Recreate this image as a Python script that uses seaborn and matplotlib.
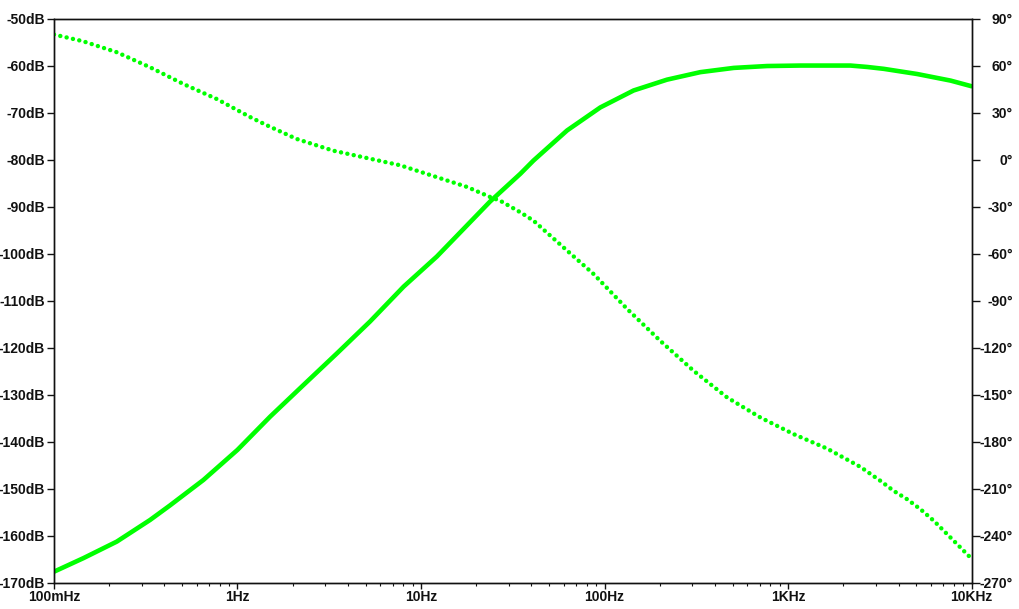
import numpy as np
import pandas as pd
import seaborn as sns
import matplotlib.pyplot as plt
from matplotlib.ticker import LogLocator, NullFormatter

# magnitude trace (solid)
mag_freq = [0.1, 0.145, 0.22, 0.334, 0.429, 0.652, 1.0, 1.51, 2.29, 3.48, 5.28,
            8.04, 12.2, 23.8, 34.8, 41, 62.5, 94.9, 144, 219, 333, 506, 769,
            1169, 2188, 2700, 3326, 5058, 7690, 10000]
mag_db = [-167.6, -164.7, -161.2, -156.6, -153.5, -148.1, -141.7, -134.6, -127.9,
          -121.2, -114.4, -107.0, -100.6, -88.9, -83.0, -80.2, -73.8, -68.9,
          -65.3, -63.0, -61.4, -60.5, -60.1, -60.0, -60.0, -60.3, -60.7, -61.8,
          -63.2, -64.4]

# phase trace (dotted)
phase_freq = [0.1, 0.144, 0.22, 0.334, 0.506, 0.77, 1.17, 1.44, 2.1, 3.33, 7.7,
              17.8, 24, 27, 34.8, 41, 62.5, 87.3, 133, 201, 306, 466, 708, 1075,
              1634, 2483, 3192, 3770, 4458, 5272, 6237, 8017, 10000]
phase_deg = [79.8, 75.5, 68.5, 58.9, 48.3, 38.7, 27.2, 22.0, 13.2, 5.7, -3.6,
             -17.4, -24.0, -26.2, -33.6, -38.9, -58.0, -73.0, -95.3, -115.5,
             -134.7, -151.7, -164.5, -175.1, -184.3, -196.0, -204.9, -211.3,
             -216.6, -223.0, -230.4, -243.2, -254.5]

db_ticks = list(range(-170, -49, 10))
deg_ticks = list(range(-270, 91, 30))
x_ticks = [0.1, 1, 10, 100, 1000, 10000]
x_labels = ["100mHz", "1Hz", "10Hz", "100Hz", "1KHz", "10KHz"]

mag = pd.DataFrame({"freq": mag_freq, "db": mag_db})
phase = pd.DataFrame({"freq": phase_freq, "deg": phase_deg})

sns.set_theme(style="white")
plt.rcParams["font.family"] = ["Liberation Sans", "DejaVu Sans"]
plt.rcParams["font.weight"] = "bold"
plt.rcParams["font.size"] = 10
green = "#00ff00"
ink = "#111111"

fig = plt.figure(figsize=(10.2, 6.09), dpi=100)
ax = fig.add_axes([0.0529, 0.0427, 0.8996, 0.9269])
ax2 = ax.twinx()

sns.lineplot(data=mag, x="freq", y="db", ax=ax, color=green, lw=3.3)
sns.lineplot(data=phase, x="freq", y="deg", ax=ax2, color=green, lw=3.2)
dots = ax2.lines[0]
dots.set_linestyle((0, (0.01, 1.45)))
dots.set_dash_capstyle("round")

ax.set_xscale("log")
ax.set_xlim(0.1, 10000)
ax.set_ylim(-170, -50)
ax2.set_ylim(-270, 90)

ax.set_xticks(x_ticks, labels=x_labels)
ax.xaxis.set_minor_locator(LogLocator(base=10, subs=np.arange(2, 10)))
ax.xaxis.set_minor_formatter(NullFormatter())
ax.set_yticks(db_ticks, labels=[f"{d}dB" for d in db_ticks])
ax2.set_yticks(deg_ticks, labels=[f"{d}\u00b0" for d in deg_ticks], ha="right")

ax.set_xlabel("")
ax.set_ylabel("")
ax2.set_ylabel("")

ax.tick_params(axis="x", which="major", bottom=True, direction="out", length=4.5,
               width=1, pad=0.5, colors=ink, labelsize=10)
ax.tick_params(axis="x", which="minor", bottom=True, direction="out", length=2.2,
               width=0.8, color=ink)
ax.tick_params(axis="y", left=True, direction="out", length=5, width=1, pad=1.5,
               colors=ink, labelsize=10)
ax2.tick_params(axis="y", right=True, left=False, direction="out", length=5.4,
                width=1, pad=24.5, colors=ink, labelsize=10)

for a in (ax, ax2):
    for s in a.spines.values():
        s.set_visible(True)
        s.set_color(ink)
        s.set_linewidth(1)
    a.grid(False)

fig.savefig("out.png", dpi=100, facecolor="white")
